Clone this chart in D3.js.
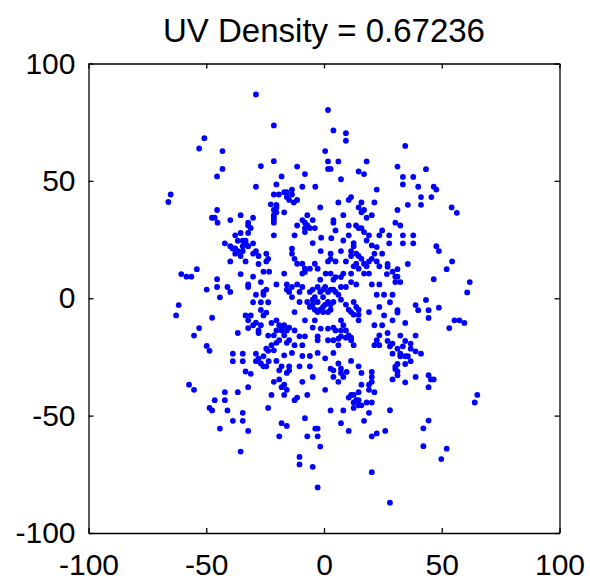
<!DOCTYPE html>
<html>
<head>
<meta charset="utf-8">
<script src="https://cdn.jsdelivr.net/npm/d3@7"></script>
<style>
  body { margin: 0; background: #fff; }
  svg text { font-family: "Liberation Sans", Arial, sans-serif; fill: #000; }
</style>
</head>
<body>
<div id="chart"></div>
<script>
const titleText = 'UV Density = 0.67236'
const tickValues = [-100, -50, 0, 50, 100]

// [u, v] samples, grouped by area of the plot
const ptsUpperLeft = [[-28.9,86.8],[-50.8,68.2],[-53.0,63.8],[-43.1,62.7],[-43.1,55.1],[-45.4,51.9],[-26.8,56.3],[-28.9,47.5],[-65.1,44.2],[-66.1,41.0],[-22.6,40.0],[-45.4,37.6],[-47.6,34.3],[-46.4,34.3],[-45.2,32.2],[-39.8,33.3],[-35.4,35.4],[-30.1,34.3],[-32.2,32.2],[-32.2,31.0],[-31.1,29.9]]
const ptsUpper = [[1.7,80.2],[-21.3,73.6],[4.0,71.5],[9.3,70.3],[9.3,67.1],[0.5,62.7],[1.7,58.3],[6.1,58.3],[18.1,58.3],[-21.3,58.4],[1.7,55.1],[2.8,55.1],[-11.4,56.1],[14.7,54.0],[17.0,52.9],[-8.1,52.9],[7.2,50.7],[-18.0,51.9],[-20.2,48.5],[-9.2,47.5],[-3.7,47.5],[22.4,46.3],[-21.3,44.2],[-19.2,44.2],[-16.9,45.2],[-15.8,45.2],[-13.6,46.3],[-15.8,43.1],[-13.6,44.2],[-14.8,41.9],[-12.8,40.8],[-11.4,41.9],[-20.2,39.8],[-20.2,38.7],[-21.3,37.6],[-20.2,36.6],[-21.3,35.4],[-21.3,34.3],[-21.3,33.3],[-21.3,32.2],[-16.9,36.6],[-1.6,38.7],[6.1,40.8],[10.5,41.9],[11.5,43.1],[15.9,40.8],[21.4,40.8],[14.7,38.7],[15.9,36.6],[17.0,37.6],[20.3,35.4],[18.1,34.3],[8.2,35.4],[-7.1,35.4],[-9.2,33.3],[-8.1,32.2],[-4.8,33.3],[-11.4,31.0],[4.0,33.3],[4.0,32.2],[10.5,31.0],[13.6,31.0],[-7.0,31.0],[-6.0,29.9],[-3.9,29.9],[-8.1,29.9],[14.7,29.9],[15.9,29.9]]
const ptsUpperRight = [[34.5,64.9],[31.2,56.1],[43.3,55.0],[33.5,51.7],[37.9,51.7],[33.5,48.5],[40.0,47.5],[46.6,47.5],[47.7,46.3],[41.2,43.1],[45.6,43.1],[35.6,39.8],[41.2,39.8],[31.2,37.6],[54.2,38.7],[56.4,36.4],[30.3,32.2],[32.4,31.0]]
const ptsLeft = [[-37.7,26.8],[-35.4,27.8],[-32.2,27.8],[-36.6,24.5],[-34.5,24.5],[-33.3,24.5],[-42.1,23.4],[-39.8,22.2],[-37.7,21.2],[-38.8,21.2],[-34.5,22.2],[-32.2,22.2],[-30.1,23.4],[-33.3,23.4],[-36.6,20.1],[-34.5,20.1],[-37.7,19.0],[-35.4,18.0],[-28.9,20.1],[-30.1,19.0],[-27.8,18.0],[-24.5,19.0],[-24.5,15.7],[-23.7,16.8],[-39.8,15.7],[-33.3,15.7],[-27.8,14.6],[-54.0,12.4],[-60.6,10.3],[-58.4,9.2],[-56.3,9.2],[-35.4,10.3],[-30.1,9.2],[-25.7,11.3],[-23.3,11.3],[-45.4,8.1],[-26.8,6.9],[-32.2,5.9],[-32.2,4.8],[-45.4,4.8],[-41.0,4.8],[-49.8,3.7],[-39.8,2.7],[-24.5,3.7],[-25.7,2.7],[-25.7,1.5],[-28.9,1.5],[-44.2,0.4],[-30.1,-1.7],[-26.8,-1.7],[-23.7,-1.7],[-61.7,-2.9],[-26.8,-5.0],[-24.5,-6.1],[-25.7,-7.3],[-62.8,-7.3],[-33.3,-7.3],[-31.1,-7.3],[-47.5,-8.3],[-32.2,-9.4],[-30.1,-11.5],[-28.9,-10.4],[-26.8,-11.5],[-32.2,-12.7],[-27.8,-13.7],[-27.8,-14.8],[-53.0,-12.7],[-36.6,-14.8],[-55.2,-15.9],[-23.7,-15.9],[-49.8,-20.3],[-48.6,-22.4],[-24.5,-21.5],[-23.7,-22.4],[-38.7,-23.6],[-34.5,-23.6],[-28.9,-23.6],[-25.7,-24.7],[-38.7,-26.8],[-34.5,-26.8],[-27.8,-25.7],[-28.9,-26.8],[-26.8,-27.8],[-25.7,-29.0],[-24.5,-29.0],[-23.5,-26.8],[-33.3,-31.2],[-31.1,-32.2]]
const ptsCenter = [[-21.3,26.8],[-12.5,26.8],[-8.1,28.2],[-4.8,23.5],[-1.2,25.8],[3.1,25.6],[8.2,24.6],[10.5,26.8],[4.9,28.9],[12.6,23.5],[12.6,22.1],[17.0,28.2],[19.1,26.8],[18.1,24.6],[20.3,22.5],[22.4,21.8],[23.5,26.8],[24.7,28.9],[-13.6,21.1],
  [-13.6,19.0],[-12.5,16.8],[-11.4,14.7],[-9.2,14.7],[-8.1,12.6],[-6.0,12.6],[-3.9,14.7],[-2.7,12.6],[-1.4,20.1],[2.8,19.0],[2.8,16.8],[1.7,15.7],[4.9,15.7],[7.2,20.1],[9.3,15.7],[11.5,20.1],[11.5,18.0],[13.7,19.0],[14.7,18.0],[15.9,16.8],[17.0,14.7],[18.1,13.6],[19.1,15.7],[20.3,16.8],[21.4,19.0],[22.4,15.7],[23.5,13.6],[24.7,19.0],[13.7,14.7],[14.7,12.6],[12.6,13.6],[-16.9,10.5],[-9.2,10.5],[-8.1,11.2],[0.7,10.5],[2.8,10.5],[4.9,9.0],[7.2,9.0],[8.2,10.5],[11.5,10.5],[17.0,10.5],[19.1,10.5],
  [-20.2,5.9],[-15.8,5.9],[-15.8,3.7],[-14.8,2.7],[-13.6,4.8],[-11.4,5.9],[-10.4,2.7],[-9.2,4.8],[-13.6,0.5],[-6.0,2.7],[-4.8,3.7],[-3.9,0.5],[-2.7,4.8],[-1.6,2.7],[-0.4,3.7],[0.5,4.8],[1.7,2.7],[2.8,3.7],[4.0,3.7],[4.9,2.7],[6.1,1.5],[-4.8,-0.6],[-2.7,-1.6],[-0.4,0.5],[-1.6,7.9],[4.0,7.9],[7.2,4.8],[9.3,4.8],[11.5,6.9],[13.7,5.9],[20.3,5.9],[23.5,5.9],[22.4,1.5],
  [-10.4,-1.6],[-7.1,-1.6],[-6.0,-3.7],[-4.8,-2.7],[-3.9,-4.9],[-2.7,-5.9],[-1.6,-4.9],[-0.4,-3.7],[0.5,-2.7],[1.7,-1.6],[2.8,-2.7],[4.0,-1.6],[-0.4,-5.9],[1.7,-5.9],[2.8,-4.9],[7.2,-0.6],[9.3,-2.7],[10.5,-4.9],[11.5,-5.9],[12.6,-1.6],[13.7,-3.7],[14.7,-4.9],[12.6,-7.0],[14.7,-7.0],[19.1,-5.9],[23.5,-3.7],[-12.5,-5.9],[-8.1,-9.4],[-3.9,-9.4],
  [-22.3,-10.5],[-20.2,-9.4],[-19.0,-11.5],[-18.0,-12.5],[-16.9,-11.5],[-15.8,-13.7],[-14.8,-12.5],[-18.0,-13.7],[-20.2,-13.7],[-16.9,-15.8],[-21.3,-15.8],[-12.5,-13.7],[-10.4,-16.2],[-8.1,-16.2],[-4.8,-12.5],[-1.4,-12.9],[1.7,-12.9],[4.0,-12.5],[4.9,-13.7],[7.2,-9.4],[8.2,-11.5],[7.2,-13.7],[9.3,-13.7],[10.5,-15.8],[11.5,-16.8],[7.2,-16.2],[6.1,-17.2],[14.7,-9.4],[21.4,-11.5],[24.7,-11.5],[23.5,-15.8],[22.4,-17.9],[-2.7,-16.2],
  [-19.0,-17.9],[-15.8,-19.0],[-14.8,-17.9],[-20.2,-19.0],[-22.3,-20.0],[-12.5,-20.0],[-9.2,-20.0],[-2.7,-17.9],[1.7,-17.9],[4.0,-17.9],[6.1,-20.0],[9.3,-16.8],[12.6,-20.0],[11.5,-17.9],[21.4,-20.0],[23.5,-20.0],[-21.3,-22.2],[-16.9,-24.3],[-13.6,-23.3],[-9.2,-24.6],[-6.0,-24.6],[-2.7,-23.3],[0.5,-25.6],[4.0,-23.3],[-20.2,-26.7],[-18.0,-29.0],[-14.8,-29.0],[-10.4,-29.0],[-19.0,-30.7],[-15.8,-31.8],[-14.8,-30.7],[-6.0,-29.0],[2.8,-30.0],[6.1,-27.8],[7.2,-30.0],[4.0,-30.7],[7.2,-31.8],[9.6,-31.4],[11.5,-26.7],[14.7,-29.0],[15.9,-31.8],[20.3,-31.4]]
const ptsRight = [[27.7,26.8],[27.7,23.4],[33.5,26.8],[37.9,26.8],[33.5,23.4],[37.9,23.4],[47.7,22.2],[48.8,20.1],[54.4,15.7],[52.1,12.4],[35.6,14.6],[27.0,14.6],[27.0,13.4],[31.2,12.4],[26.7,10.3],[29.1,11.3],[30.3,9.2],[31.2,9.2],[30.3,6.9],[32.4,6.9],[46.6,8.1],[61.9,6.9],[60.8,2.5],[25.5,1.5],[29.1,1.5],[28.0,-1.7],[43.3,-0.7],[38.9,-2.9],[40.0,-5.1],[44.4,-5.1],[31.2,-5.1],[31.2,-6.1],[48.8,-4.0],[44.4,-8.4],[25.5,-7.3],[29.1,-9.4],[34.5,-10.5],[55.4,-9.4],[57.5,-9.4],[59.6,-10.5],[53.2,-12.7],[27.0,-14.8],[32.4,-15.9],[38.9,-15.9],[27.0,-18.2],[29.1,-19.3],[28.0,-20.5],[34.5,-18.2],[36.8,-19.3],[33.5,-20.5],[31.2,-21.5],[36.8,-21.5],[38.9,-22.6],[41.2,-23.6],[29.1,-23.6],[32.4,-24.7],[34.5,-24.7],[35.6,-24.7],[32.4,-23.6],[36.8,-26.8],[34.5,-28.0],[31.2,-28.0],[30.3,-29.1],[30.3,-30.1],[31.2,-31.2]]
const ptsLowerLeft = [[-57.3,-36.8],[-55.2,-39.0],[-42.1,-40.0],[-36.6,-40.0],[-32.2,-37.9],[-46.4,-43.4],[-42.1,-43.4],[-48.6,-46.7],[-47.5,-47.8],[-41.0,-47.8],[-34.5,-48.8],[-38.7,-52.2],[-34.5,-52.2],[-44.2,-55.5],[-32.2,-56.5],[-35.4,-65.3],[-23.7,-46.7]]
const ptsLower = [[-21.3,-35.6],[-19.0,-34.6],[-16.9,-36.8],[-18.0,-37.9],[-15.8,-39.0],[-16.9,-41.2],[-22.3,-41.2],[-9.2,-35.6],[-4.8,-33.5],[4.0,-33.5],[6.1,-35.6],[8.2,-33.5],[0.5,-39.0],[-7.1,-41.2],[-12.5,-43.4],[-11.4,-42.3],[15.9,-36.8],[20.3,-33.5],[20.3,-35.6],[19.1,-36.8],[19.1,-39.0],[21.4,-40.0],[14.7,-40.0],[10.5,-42.3],[11.5,-41.2],[12.6,-41.2],[13.7,-43.4],[14.7,-43.4],[12.6,-44.4],[12.6,-46.7],[14.7,-45.6],[15.9,-45.6],[18.1,-44.4],[20.3,-44.4],[2.8,-47.8],[8.2,-47.8],[19.1,-48.8],[-8.1,-51.1],[-18.0,-53.2],[-15.8,-54.4],[17.0,-52.2],[7.2,-53.2],[-3.7,-55.5],[-2.7,-55.5],[-19.0,-58.8],[-7.1,-58.8],[-2.7,-58.8],[10.5,-56.5],[26.0,-56.5],[20.3,-58.8],[22.4,-57.6],[-1.6,-63.2],[-10.4,-67.6],[-10.4,-70.8],[-4.8,-71.8],[20.3,-74.1],[-2.7,-80.6]]
const ptsLowerRight = [[31.2,-32.8],[29.1,-34.6],[34.5,-35.8],[38.9,-33.5],[44.4,-32.8],[45.4,-34.6],[46.6,-34.6],[44.4,-37.9],[65.1,-41.2],[64.0,-44.4],[28.0,-47.7],[44.4,-52.1],[42.2,-55.4],[42.2,-63.0],[52.1,-64.1],[49.8,-68.5],[28.0,-87.1]]

const points = [].concat(ptsUpperLeft, ptsUpper, ptsUpperRight, ptsLeft, ptsCenter, ptsRight, ptsLowerLeft, ptsLower, ptsLowerRight)

const w = 590
const h = 580
const margin = { top: 63.5, right: 30.5, bottom: 47, left: 88.5 }
const width = w - margin.left - margin.right
const height = h - margin.top - margin.bottom

const svg = d3.select('#chart').append('svg')
  .attr('width', w)
  .attr('height', h)

const g = svg.append('g').attr('transform', 'translate(' + margin.left + ',' + margin.top + ')')

const x = d3.scaleLinear().domain([-100, 100]).range([0, width])
const y = d3.scaleLinear().domain([-100, 100]).range([height, 0])

// plain hyphen minus, like the original
const fmt = d => String(d)

g.selectAll('.pt')
  .data(points)
  .enter().append('circle')
    .attr('class', 'pt')
    .attr('cx', d => x(d[0]))
    .attr('cy', d => y(d[1]))
    .attr('r', 2.9)
    .attr('fill', '#0000ff')

const styleAxis = sel => {
  sel.select('.domain').attr('stroke', '#000').attr('stroke-width', 1.3)
  sel.selectAll('.tick line').attr('stroke', '#000').attr('stroke-width', 1.3)
  sel.selectAll('.tick text').attr('font-size', 30)
}

g.append('g')
  .attr('transform', 'translate(0,' + height + ')')
  .call(d3.axisBottom(x).tickValues(tickValues).tickFormat(fmt).tickSizeInner(-5).tickSizeOuter(0).tickPadding(21))
  .call(styleAxis)

g.append('g')
  .call(d3.axisLeft(y).tickValues(tickValues).tickFormat(fmt).tickSizeInner(-5).tickSizeOuter(0).tickPadding(13))
  .call(styleAxis)

g.append('g')
  .call(d3.axisTop(x).tickValues(tickValues).tickSizeInner(-5).tickSizeOuter(0).tickFormat(''))
  .call(styleAxis)

g.append('g')
  .attr('transform', 'translate(' + width + ',0)')
  .call(d3.axisRight(y).tickValues(tickValues).tickSizeInner(-5).tickSizeOuter(0).tickFormat(''))
  .call(styleAxis)

svg.append('text')
  .attr('x', margin.left + width / 2)
  .attr('y', 42)
  .attr('text-anchor', 'middle')
  .attr('font-size', 33)
  .text(titleText)
</script>
</body>
</html>
